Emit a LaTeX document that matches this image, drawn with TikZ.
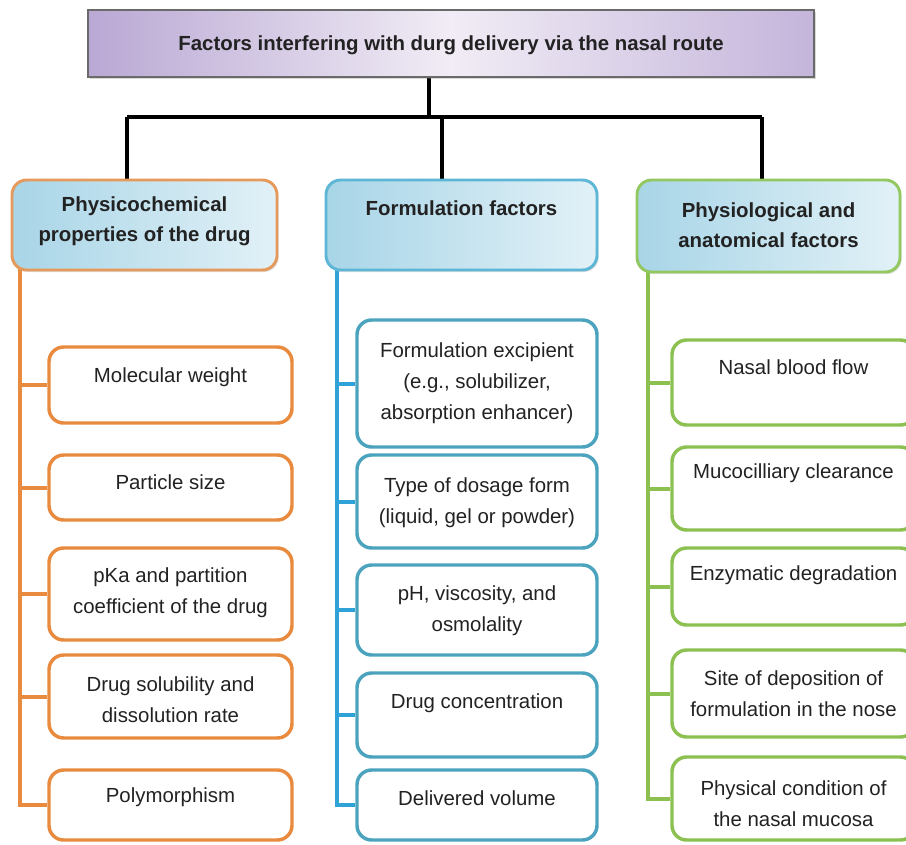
\documentclass[tikz,border=0pt]{standalone}
\usepackage{fontspec}
\setmainfont{Liberation Sans}
\usetikzlibrary{fit,backgrounds,shadows}
\definecolor{org}{HTML}{E98B3F}
\definecolor{orgcat}{HTML}{E59A5C}
\definecolor{blu}{HTML}{2FA3D8}
\definecolor{bluitem}{HTML}{4CA3BE}
\definecolor{blucat}{HTML}{5DB6D6}
\definecolor{grn}{HTML}{8CC152}
\definecolor{grncat}{HTML}{93C75F}
\definecolor{catL}{HTML}{A8D5E7}
\definecolor{catR}{HTML}{E2F1F7}
\definecolor{ttlL}{HTML}{B9A8D4}
\definecolor{ttlM}{HTML}{F1ECF5}
\definecolor{ttlR}{HTML}{C4B5DB}
\definecolor{ttlB}{HTML}{6A6A6A}
\definecolor{txtc}{HTML}{222222}
\newcommand\ibox[8]{%
  \node[#2, fit={(#3,#4) (#5,#6)}] (#1) {};
  \node[txt] (#1t) at ({(#3+#5)/2},#7) {#8};}
\begin{document}
\begin{tikzpicture}[x=0.75pt,y=-0.75pt,
  font=\fontsize{15.3pt}{23.25pt}\selectfont,
  txt/.style={align=center, text=txtc, inner sep=0pt},
  btxt/.style={txt, font=\fontsize{15.3pt}{22.5pt}\selectfont\bfseries},
  itembase/.style={draw, line width=2.6pt, rounded corners=11pt, fill=white, inner sep=0pt},
  oitem/.style={itembase, draw=org},
  bitem/.style={itembase, draw=bluitem},
  gitem/.style={itembase, draw=grn},
  catbase/.style={line width=2.2pt, rounded corners=11pt, inner sep=0pt, left color=catL, right color=catR,
    drop shadow={shadow xshift=1.2pt, shadow yshift=-1.5pt, opacity=0.25}},
  ocat/.style={catbase, draw=orgcat},
  bcat/.style={catbase, draw=blucat},
  gcat/.style={catbase, draw=grncat},
  titlebox/.style={draw=ttlB, line width=2pt, inner sep=0pt, left color=ttlL, right color=ttlR, middle color=ttlM,
    drop shadow={shadow xshift=1.2pt, shadow yshift=-1.5pt, opacity=0.3}},
  blk/.style={line width=3pt, draw=black},
  ospine/.style={line width=3pt, draw=org},
  bspine/.style={line width=3pt, draw=blu},
  gspine/.style={line width=3pt, draw=grn}]
\useasboundingbox (0,0) rectangle (906,845);
\clip (0,0) rectangle (906,845);

% title
\node[titlebox, fit={(88,10) (814,77)}] (top) {};
\node[btxt] (topt) at (451,45) {Factors interfering with durg delivery via the nasal route};

% categories
\node[ocat, fit={(12,180) (277,270)}] (lc) {};
\node[btxt] (lct) at (144.5,221.5) {Physicochemical\\properties of the drug};
\node[bcat, fit={(326,180) (597,270)}] (mc) {};
\node[btxt] (mct) at (461.5,208) {Formulation factors};
\node[gcat, fit={(637,180) (900,272)}] (rc) {};
\node[btxt] (rct) at (768.5,225) {Physiological and\\anatomical factors};

% left column
\ibox{l1}{oitem}{49}{347}{292}{423}{377}{Molecular weight}
\ibox{l2}{oitem}{49}{455}{292}{520}{482}{Particle size}
\ibox{l3}{oitem}{49}{548}{292}{640}{593}{pKa and partition\\coefficient of the drug}
\ibox{l4}{oitem}{49}{655}{292}{738}{700}{Drug solubility and\\dissolution rate}
\ibox{l5}{oitem}{49}{770}{292}{840}{797}{Polymorphism}

% middle column
\ibox{m1}{bitem}{357}{320}{597}{447}{383.5}{Formulation excipient\\(e.g., solubilizer,\\absorption enhancer)}
\ibox{m2}{bitem}{357}{455}{597}{548}{502.5}{Type of dosage form\\(liquid, gel or powder)}
\ibox{m3}{bitem}{357}{565}{597}{655}{611}{pH, viscosity, and\\osmolality}
\ibox{m4}{bitem}{357}{673}{597}{757}{703}{Drug concentration}
\ibox{m5}{bitem}{357}{770}{597}{840}{798}{Delivered volume}

% right column
\ibox{r1}{gitem}{672}{340}{915}{425}{367}{Nasal blood flow}
\ibox{r2}{gitem}{672}{447}{915}{530}{473}{Mucocilliary clearance}
\ibox{r3}{gitem}{672}{548}{915}{625}{575}{Enzymatic degradation}
\ibox{r4}{gitem}{672}{650}{915}{737}{693.5}{Site of deposition of\\formulation in the nose}
\ibox{r5}{gitem}{672}{757}{915}{840}{804}{Physical condition of\\the nasal mucosa}

\begin{scope}[on background layer]
% black tree
\coordinate (hub) at (429,117);
\coordinate (hl) at (127,117);
\coordinate (hm) at (442,117);
\coordinate (hr) at (762,117);
\draw[blk] (top.south -| hub) -- (hub);
\draw[blk] (hl) -- (hr);
\draw[blk] (hl) -- (hl |- lc.north);
\draw[blk] (hm) -- (hm |- mc.north);
\draw[blk] (hr) -- (hr |- rc.north);
% spines
\coordinate (ls) at (20,265);
\coordinate (ms) at (337,265);
\coordinate (rs) at (648,267);
\draw[ospine] (ls) -- (ls |- l5.west) -- (l5.west);
\draw[bspine] (ms) -- (ms |- m5.west) -- (m5.west);
\draw[gspine] (rs) -- (rs |- r5.west) -- (r5.west);
\foreach \n in {l1,l2,l3,l4} \draw[ospine] (ls |- \n.west) -- (\n.west);
\foreach \n in {m1,m2,m3,m4} \draw[bspine] (ms |- \n.west) -- (\n.west);
\foreach \n in {r1,r2,r3,r4} \draw[gspine] (rs |- \n.west) -- (\n.west);
\end{scope}
\end{tikzpicture}
\end{document}
